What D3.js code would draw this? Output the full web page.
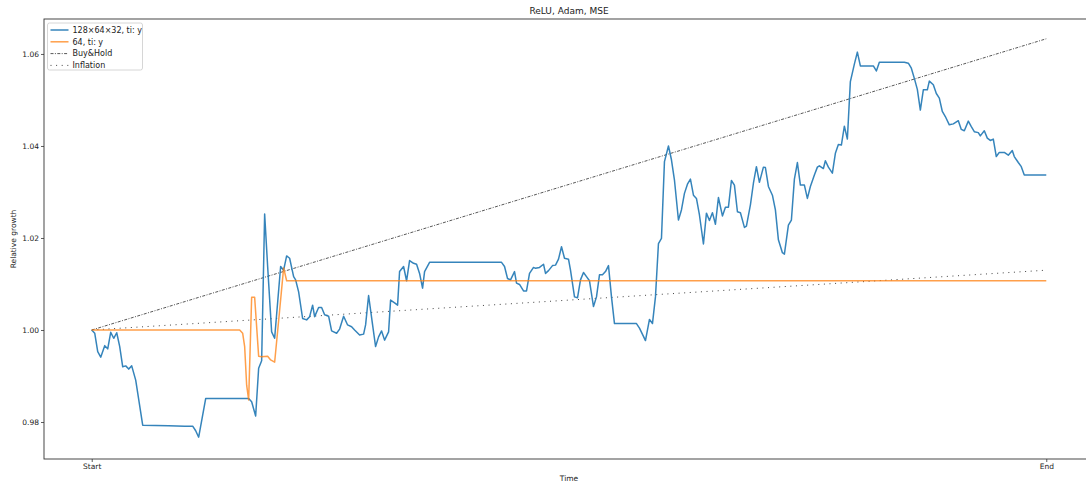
<!DOCTYPE html>
<html>
<head>
<meta charset="utf-8">
<script src="https://cdn.jsdelivr.net/npm/d3@7"></script>
<style>
    body { margin: 0; background: #fff; }
    text { font-family: "DejaVu Sans", sans-serif; fill: #222; }
</style>
</head>
<body>
<svg></svg>
<script>
// time steps run from Start (0) to End (955)
const timeTicks = [0, 955];
const timeLabels = ['Start', 'End'];
const yTicks = [0.98, 1.00, 1.02, 1.04, 1.06];

const seriesNames = ['128\u00d764\u00d732, ti: y', '64, ti: y', 'Buy&Hold', 'Inflation'];

// [time step, relative growth]
const bigNet = [
    [0, 1.0000], [3, 0.9993], [6, 0.9953], [9, 0.9941], [13, 0.9966], [16, 0.9959],
    [19, 0.9995], [22, 0.9982], [25, 0.9994], [28, 0.9964], [31, 0.9920], [34, 0.9922],
    [37, 0.9915], [40, 0.9922], [44, 0.9891], [51, 0.9793], [77, 0.9792], [93, 0.9791],
    [101, 0.9791], [104, 0.9781], [107, 0.9767], [114, 0.9851], [157, 0.9851], [160, 0.9844],
    [164, 0.9813], [167, 0.9917], [170, 0.9933], [173, 1.0252], [176, 1.0138], [180, 0.9996],
    [183, 0.9982], [189, 1.0138], [192, 1.0130], [195, 1.0161], [198, 1.0156], [202, 1.0116],
    [204, 1.0109], [207, 1.0083], [211, 1.0025], [215, 1.0022], [218, 1.0029], [221, 1.0054],
    [223, 1.0029], [227, 1.0049], [230, 1.0049], [233, 1.0033], [237, 1.0030], [240, 0.9998],
    [245, 0.9993], [248, 1.0002], [252, 1.0030], [256, 1.0011], [260, 1.0007], [263, 1.0000],
    [268, 0.9989], [272, 0.9991], [274, 1.0011], [277, 1.0075], [281, 1.0011], [284, 0.9964],
    [287, 0.9985], [290, 0.9998], [293, 0.9978], [297, 0.9996], [299, 1.0065], [303, 1.0059],
    [306, 1.0054], [308, 1.0127], [312, 1.0138], [315, 1.0107], [318, 1.0151], [322, 1.0145],
    [325, 1.0143], [328, 1.0123], [331, 1.0091], [333, 1.0127], [338, 1.0147], [410, 1.0147],
    [413, 1.0138], [416, 1.0112], [419, 1.0109], [423, 1.0127], [425, 1.0102], [428, 1.0099],
    [432, 1.0085], [435, 1.0085], [438, 1.0123], [442, 1.0136], [444, 1.0134], [448, 1.0136],
    [452, 1.0143], [454, 1.0123], [457, 1.0129], [461, 1.0140], [464, 1.0141], [467, 1.0154],
    [470, 1.0181], [473, 1.0156], [477, 1.0154], [479, 1.0130], [483, 1.0072], [486, 1.0070],
    [489, 1.0109], [492, 1.0125], [495, 1.0116], [498, 1.0107], [502, 1.0051], [505, 1.0072],
    [508, 1.0120], [511, 1.0120], [514, 1.0127], [517, 1.0140], [520, 1.0072], [523, 1.0014],
    [545, 1.0014], [548, 1.0004], [552, 0.9986], [554, 0.9977], [558, 1.0023], [561, 1.0014],
    [564, 1.0072], [567, 1.0188], [570, 1.0199], [573, 1.0366], [577, 1.0400], [580, 1.0370],
    [583, 1.0326], [587, 1.0239], [590, 1.0261], [593, 1.0297], [596, 1.0317], [599, 1.0328],
    [602, 1.0293], [605, 1.0286], [608, 1.0250], [612, 1.0187], [615, 1.0254], [618, 1.0238],
    [621, 1.0255], [624, 1.0230], [627, 1.0288], [631, 1.0248], [634, 1.0267], [637, 1.0267],
    [640, 1.0325], [643, 1.0315], [646, 1.0257], [649, 1.0255], [653, 1.0223], [655, 1.0226],
    [659, 1.0272], [662, 1.0319], [665, 1.0355], [668, 1.0321], [672, 1.0354], [674, 1.0353],
    [677, 1.0312], [681, 1.0293], [684, 1.0261], [687, 1.0196], [691, 1.0168], [693, 1.0165],
    [697, 1.0228], [700, 1.0239], [703, 1.0328], [706, 1.0364], [709, 1.0315], [713, 1.0315],
    [716, 1.0286], [719, 1.0312], [723, 1.0337], [726, 1.0354], [728, 1.0357], [732, 1.0351],
    [734, 1.0368], [737, 1.0354], [741, 1.0341], [744, 1.0384], [747, 1.0403], [750, 1.0402],
    [753, 1.0443], [756, 1.0415], [759, 1.0540], [763, 1.0578], [766, 1.0604], [769, 1.0574],
    [782, 1.0574], [785, 1.0563], [788, 1.0582], [813, 1.0582], [817, 1.0580], [820, 1.0569],
    [823, 1.0547], [826, 1.0523], [829, 1.0478], [832, 1.0522], [836, 1.0522], [838, 1.0541],
    [842, 1.0533], [845, 1.0514], [848, 1.0504], [851, 1.0475], [854, 1.0464], [858, 1.0446],
    [862, 1.0448], [867, 1.0455], [870, 1.0436], [873, 1.0433], [877, 1.0454], [880, 1.0442],
    [883, 1.0431], [887, 1.0429], [889, 1.0422], [893, 1.0433], [896, 1.0417], [899, 1.0412],
    [902, 1.0415], [905, 1.0377], [908, 1.0386], [913, 1.0386], [917, 1.0380], [921, 1.0390],
    [923, 1.0377], [927, 1.0364], [930, 1.0355], [933, 1.0337], [955, 1.0337]
];

const smallNet = [
    [0, 1.0000], [148, 1.0000], [151, 0.9993], [153, 0.9964], [155, 0.9880], [157, 0.9848],
    [160, 1.0071], [163, 1.0071], [167, 0.9943], [170, 0.9942], [176, 0.9943], [179, 0.9935],
    [183, 0.9930], [188, 1.0043], [192, 1.0135], [195, 1.0107], [955, 1.0107]
];

const buyHold = [[0, 1.0000], [955, 1.0633]];
const inflation = [[0, 1.0000], [955, 1.0130]];

let width = 1086;
let height = 488;
let margin = {left: 44, right: 44 + 1050, top: 19, bottom: 459};

let svg = d3.select('svg')
            .attr('width', width)
            .attr('height', height);

let pad = (timeTicks[1] - timeTicks[0]) * 0.05;
let xScale = d3.scaleLinear()
                .domain([timeTicks[0] - pad, timeTicks[1] + pad])
                .range([margin.left, margin.right]);

let yScale = d3.scaleLinear()
                .domain([0.97196, 1.0676])
                .range([margin.bottom, margin.top]);

let line = d3.line()
            .x(d => xScale(d[0]))
            .y(d => yScale(d[1]));

let plot = svg.append('g');

const styles = [
    {data: bigNet, color: '#1f77b4', w: 1.5, dash: null, op: 0.9},
    {data: smallNet, color: '#ff7f0e', w: 1.5, dash: null, op: 0.75},
    {data: buyHold, color: '#222', w: 0.9, dash: '3,1.4,1,1.4', op: 0.85},
    {data: inflation, color: '#222', w: 1, dash: '1,4.6', op: 0.85}
];

// draw the reference lines first, models on top
[2, 3, 0, 1].forEach(i => {
    let s = styles[i];
    plot.append('path')
        .datum(s.data)
        .attr('d', line)
        .attr('fill', 'none')
        .attr('stroke', s.color)
        .attr('stroke-width', s.w)
        .attr('stroke-opacity', s.op)
        .attr('stroke-dasharray', s.dash)
        .attr('stroke-linejoin', 'round');
});

// frame
svg.append('rect')
    .attr('x', margin.left)
    .attr('y', margin.top)
    .attr('width', margin.right - margin.left)
    .attr('height', margin.bottom - margin.top)
    .attr('fill', 'none')
    .attr('stroke', '#333')
    .attr('stroke-width', 0.9);

let xAxis = d3.axisBottom(xScale)
            .tickValues(timeTicks)
            .tickFormat((d, i) => timeLabels[i])
            .tickSize(3)
            .tickPadding(2);

let yAxis = d3.axisLeft(yScale)
            .tickValues(yTicks)
            .tickFormat(d3.format('.2f'))
            .tickSize(3)
            .tickPadding(2);

let gx = svg.append('g')
            .attr('transform', `translate(0, ${margin.bottom})`)
            .call(xAxis);
let gy = svg.append('g')
            .attr('transform', `translate(${margin.left}, 0)`)
            .call(yAxis);

[gx, gy].forEach(g => {
    g.select('.domain').remove();
    g.selectAll('.tick line').attr('stroke', '#333').attr('stroke-width', 0.8);
    g.selectAll('.tick text')
        .attr('font-family', '"DejaVu Sans", sans-serif')
        .attr('font-size', 7.5)
        .attr('fill', '#222');
});

svg.append('text')
    .attr('x', (margin.left + margin.right) / 2)
    .attr('y', 14)
    .attr('text-anchor', 'middle')
    .attr('font-size', 9)
    .text('ReLU, Adam, MSE');

svg.append('text')
    .attr('x', (margin.left + margin.right) / 2)
    .attr('y', 481)
    .attr('text-anchor', 'middle')
    .attr('font-size', 7.5)
    .text('Time');

svg.append('text')
    .attr('transform', `translate(16, ${(margin.top + margin.bottom) / 2}) rotate(-90)`)
    .attr('text-anchor', 'middle')
    .attr('font-size', 7.5)
    .text('Relative growth');

// legend
let legend = svg.append('g')
                .attr('transform', 'translate(47.5, 23)');

legend.append('rect')
    .attr('width', 95)
    .attr('height', 47)
    .attr('rx', 2)
    .attr('fill', '#fff')
    .attr('fill-opacity', 0.8)
    .attr('stroke', '#ccc')
    .attr('stroke-width', 0.8);

seriesNames.forEach((name, i) => {
    let s = styles[i];
    let y = 7 + i * 11.8;
    legend.append('line')
        .attr('x1', 3)
        .attr('x2', 21)
        .attr('y1', y)
        .attr('y2', y)
        .attr('stroke', s.color)
        .attr('stroke-width', s.w)
        .attr('stroke-opacity', s.op)
        .attr('stroke-dasharray', s.dash);
    legend.append('text')
        .attr('x', 25)
        .attr('y', y + 2.8)
        .attr('font-size', 8)
        .text(name);
});
</script>
</body>
</html>
